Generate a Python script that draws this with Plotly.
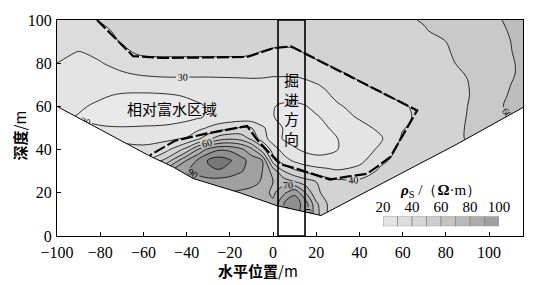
import plotly.graph_objects as go

# ---------------- data ----------------
x_nodes = [-100, -90, -80, -70, -60, -50, -40, -35, -30, -25, -20, -15, -10, -5, 0,
           5, 10, 15, 20, 25, 30, 40, 50, 60, 70, 80, 90, 100, 110, 116]
y_nodes = [5, 10, 15, 20, 25, 30, 35, 40, 45, 50, 55, 60, 65, 70, 75, 80, 85, 90, 95, 100]

rho_d5 = [66, 68, 70, 72, 74, 78, 80, 81, 81, 80, 79, 78, 76, 74, 74, 88, 94, 84, 64, 50, 46, 46, 47, 48, 50, 52, 54, 56, 58, 60]
rho_d10 = [66, 68, 70, 72, 74, 78, 80, 81, 81, 80, 79, 78, 76, 74, 74, 88, 94, 84, 64, 50, 46, 46, 47, 48, 50, 52, 54, 56, 58, 60]
rho_d15 = [66, 68, 70, 72, 74, 78, 80, 81, 81, 80, 79, 78, 76, 74, 72, 90, 96, 85, 62, 50, 45, 46, 47, 48, 50, 52, 54, 56, 58, 60]
rho_d20 = [65, 68, 70, 72, 74, 78, 81, 82, 82, 81, 80, 79, 77, 74, 68, 78, 88, 70, 52, 47, 44, 45, 46, 48, 50, 52, 54, 56, 58, 60]
rho_d25 = [60, 62, 65, 70, 74, 80, 84, 85, 85, 85, 84, 83, 83, 79, 70, 66, 61, 55, 50, 45, 43, 42, 44, 46, 48, 50, 52, 54, 56, 58]
rho_d30 = [50, 52, 55, 60, 66, 76, 89, 93, 98, 99, 96, 91, 86, 80, 66, 50, 42, 38, 35, 33, 31, 34, 42, 44, 46, 48, 50, 52, 54, 56]
rho_d35 = [40, 40, 40, 40, 38, 52, 80, 91, 101, 105, 101, 94, 86, 80, 45, 34, 28, 24, 22, 22, 23, 27, 38, 44, 46, 48, 50, 52, 54, 56]
rho_d40 = [34, 34, 34, 34, 33, 36, 54, 70, 83, 89, 88, 83, 73, 55, 35, 26, 21, 18.5, 18, 18.5, 20, 25, 32, 44, 45, 47, 49, 52, 55, 57]
rho_d45 = [28, 27, 27, 27, 26, 28, 31, 38, 47, 56, 59, 57, 48, 35, 25, 19, 17, 16, 16.5, 18, 20, 25, 29, 41.5, 44, 47, 50.5, 53, 57, 59]
rho_d50 = [24, 22, 21, 20.5, 21, 21.5, 24, 27, 31, 35, 38, 41, 40.5, 32, 24, 19.5, 18, 17, 17.5, 19.5, 23, 27, 32, 39.5, 43, 47, 50.5, 54, 58, 60]
rho_d55 = [22, 19.5, 17, 16, 15.5, 16, 17.5, 19, 21, 22.5, 23, 23.5, 23, 21.5, 20.3, 18, 17, 17.5, 19, 22, 26, 31, 34, 37.5, 43.5, 47, 50.2, 56, 60, 62]
rho_d60 = [24, 21, 18.5, 17, 16.5, 17, 18, 19, 20.5, 21.5, 22, 22.5, 22, 21, 20.3, 19, 18.5, 19.5, 22.5, 25.5, 29, 33, 35.5, 38.5, 44, 47.5, 50, 56, 62, 64]
rho_d65 = [25, 23, 21, 19, 18.5, 19, 20.5, 21.5, 22, 23, 23.5, 24, 24, 23.5, 22.5, 22, 22.5, 24, 27, 29, 32, 36, 39, 43, 45.5, 47.5, 49.5, 55, 61, 63]
rho_d70 = [26, 25, 24.5, 24, 24.5, 25, 25, 25, 25, 25.5, 26, 26.5, 27, 27.5, 27, 27, 27, 28, 29.5, 31.5, 34, 39, 42.5, 45, 46.5, 48, 49.7, 55, 60, 61.5]
rho_d75 = [27, 26, 27, 29, 31, 32, 32, 32, 32, 32, 32, 32, 32, 31.5, 31, 31, 31, 32, 34, 36, 38.5, 42, 44.5, 46, 47.5, 48.3, 50.3, 56, 59.5, 61]
rho_d80 = [30, 28, 29.5, 33, 36, 37, 37, 37, 37, 37, 37, 37, 37, 36, 35, 35, 35.5, 37, 39, 40.5, 42.5, 44, 45.5, 46.5, 47.5, 48.5, 52, 56.5, 59.5, 61]
rho_d85 = [33, 29.5, 32, 38, 42, 42, 42, 42, 42, 42, 42, 42, 41, 39.5, 38, 37.5, 38.5, 40.5, 42, 43, 44, 45, 46, 47, 48, 49.3, 52.5, 56.5, 59.8, 61.5]
rho_d90 = [33, 35, 37, 40.5, 43, 44, 44, 44, 44, 44, 44, 44, 44, 43.5, 43, 42.5, 42.5, 43.5, 44, 44.5, 45, 46, 47, 48, 49, 50, 54, 57, 60, 62]
rho_d95 = [34, 36, 38, 42, 44, 44.5, 44.5, 44.5, 44.5, 44.5, 44.5, 44.5, 44.5, 44.5, 44.5, 44.5, 45, 45.5, 46, 46, 46.5, 47, 47.5, 48.5, 49.5, 52, 55, 57.5, 60.5, 62]
rho_d100 = [35, 37, 40.5, 42, 44, 45, 45, 45, 45, 45, 45, 45, 45, 45, 45, 45, 46, 46, 46, 47, 47, 47, 48, 49, 50.5, 53, 56, 58.5, 61, 62.5]

rho_rows = [rho_d5, rho_d10, rho_d15, rho_d20, rho_d25, rho_d30, rho_d35, rho_d40, rho_d45,
            rho_d50, rho_d55, rho_d60, rho_d65, rho_d70, rho_d75, rho_d80, rho_d85, rho_d90,
            rho_d95, rho_d100]
for r in rho_rows:
    assert len(r) == len(x_nodes)

# lower edge of the surveyed section (V shape)
bnd_x = [-100, -67, -57, -46.3, -37, -15.3, 1.9, 22.2, 84.7, 115.7]
bnd_y = [60, 42.3, 37, 32, 26.6, 20, 14, 9.5, 42.3, 59.5]

# hand-drawn outline of the relatively water-rich zone
zone_x = [-81.5, -64.8, -50.9, -12.0, 0.0, 8.3, 66.7, 62.0, 54.2, 48.1, 43.5, 34.3, 26.4,
          11.1, 3.2, -7.4, -12.0, -31.5, -45.4, -57.0]
zone_y = [100, 83.3, 82.4, 82.9, 86.9, 87.8, 58.1, 50.0, 36.5, 32.0, 28.8, 27.5, 26.1,
          31.1, 33.3, 44.6, 50.9, 47.3, 44.1, 37.4]

# tunnelling direction box
box_x = [2.3, 14.8]

# colour legend
cb_mid = [25, 35, 45, 55, 65, 75, 85, 95]
cb_ticks = [20, 40, 60, 80, 100]
band_colors = ['#e9e9e9', '#e4e4e4', '#dcdcdc', '#d3d3d3', '#c9c9c9', '#bdbdbd',
               '#afafaf', '#a0a0a0', '#8f8f8f', '#787878']
legend_colors = ['#e4e4e4', '#dddddd', '#d5d5d5', '#cdcdcd', '#c4c4c4', '#b9b9b9',
                 '#acacac', '#a0a0a0']

x_ticks = [-100, -80, -60, -40, -20, 0, 20, 40, 60, 80, 100]
y_ticks = [0, 20, 40, 60, 80, 100]

# ---------------- figure ----------------
SERIF = 'Liberation Serif'
CJK = 'Noto Sans CJK SC'
X_MAX = 115.7

cscale = [[k / 9, c] for k, c in enumerate(band_colors)]

fig = go.Figure()

fig.add_trace(go.Contour(
    x=x_nodes, y=y_nodes, z=rho_rows,
    autocontour=False,
    contours=dict(start=20, end=100, size=10, coloring='fill', showlabels=True,
                  labelfont=dict(family=SERIF, size=10, color='black'),
                  labelformat='.0f'),
    colorscale=cscale, showscale=False,
    line=dict(color='black', width=0.8, smoothing=1),
    hoverinfo='skip'))

# white mask below the section
mask_x = bnd_x + [X_MAX, -100]
mask_y = bnd_y + [-2, -2]
fig.add_trace(go.Scatter(x=mask_x, y=mask_y, fill='toself', fillcolor='white',
                         mode='lines', line=dict(width=0, color='white'),
                         hoverinfo='skip', showlegend=False))
fig.add_trace(go.Scatter(x=bnd_x, y=bnd_y, mode='lines',
                         line=dict(color='black', width=1), showlegend=False,
                         hoverinfo='skip'))
fig.add_trace(go.Scatter(x=zone_x, y=zone_y, mode='lines',
                         line=dict(color='black', width=2.2, dash='12px,3px'),
                         showlegend=False, hoverinfo='skip'))

# colour legend as a small bar strip
fig.add_trace(go.Bar(x=cb_mid, y=[1, 1, 1, 1, 1, 1, 1, 1], width=10,
                     marker=dict(color=legend_colors, line=dict(color='#8a8a8a', width=0.8)),
                     xaxis='x2', yaxis='y2', showlegend=False, hoverinfo='skip'))

fig.add_shape(type='rect', xref='x', yref='y', x0=box_x[0], x1=box_x[1], y0=0, y1=100,
              line=dict(color='black', width=1.6), layer='above')

axis_common = dict(showline=True, linecolor='black', linewidth=1, mirror=True,
                   ticks='inside', ticklen=4, tickcolor='black', showgrid=False,
                   zeroline=False, tickfont=dict(family=SERIF, size=16, color='black'))

fig.update_layout(
    width=548, height=285, autosize=False,
    margin=dict(l=57, r=25, t=14, b=49, pad=0),
    paper_bgcolor='white', plot_bgcolor='white',
    showlegend=False,
    xaxis=dict(range=[-100, X_MAX], tickvals=x_ticks, ticklabelstandoff=2, **axis_common),
    yaxis=dict(range=[0, 100], tickvals=y_ticks, ticklabelstandoff=1, **axis_common),
    xaxis2=dict(domain=[0.6996, 0.9485], anchor='y2', range=[20, 100], side='top',
                tickvals=cb_ticks, ticks='', showline=False, showgrid=False, zeroline=False,
                tickfont=dict(family=SERIF, size=15, color='black')),
    yaxis2=dict(domain=[0.045, 0.092], anchor='x2', range=[0, 1], visible=False),
    annotations=[
        dict(text='<b>水平位置</b>/m', xref='paper', yref='paper', x=0.431, y=-0.158,
             showarrow=False, font=dict(family=CJK, size=15, color='black'),
             xanchor='center', yanchor='middle'),
        dict(text='<b>深度</b>/m', xref='paper', yref='paper', x=-0.08, y=0.464,
             showarrow=False, textangle=-90, font=dict(family=CJK, size=15, color='black'),
             xanchor='center', yanchor='middle'),
        dict(text='<b><i>ρ</i></b><sub>S</sub> /（<b>Ω</b>·m）', xref='paper', yref='paper',
             x=0.824, y=0.207, showarrow=False,
             font=dict(family=SERIF, size=15, color='black'),
             xanchor='center', yanchor='middle'),
        dict(text='相对富水区域', x=-46.8, y=59, xref='x', yref='y', showarrow=False,
             font=dict(family=CJK, size=15, color='black')),
        dict(text='掘<br>进<br>方<br>向', x=8.55, y=59, xref='x', yref='y', showarrow=False,
             font=dict(family=CJK, size=15, color='black')),
    ],
)

fig.write_html('out.html')
